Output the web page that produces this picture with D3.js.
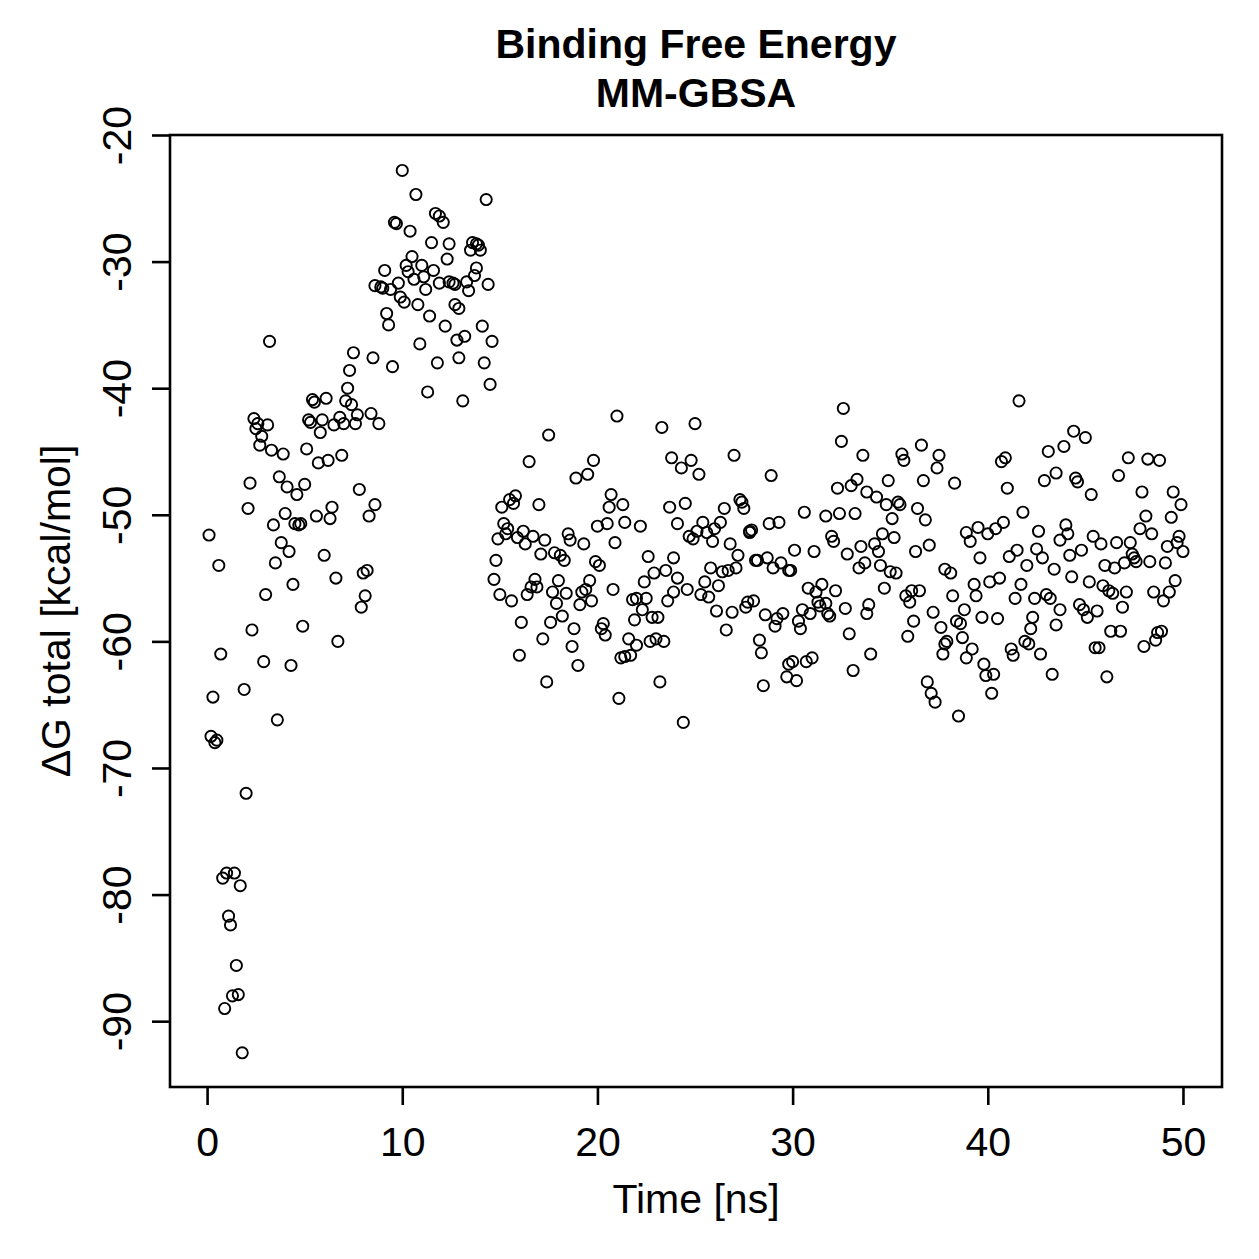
<!DOCTYPE html>
<html>
<head>
<meta charset="utf-8">
<script src="https://cdn.jsdelivr.net/npm/d3@7"></script>
<style>
  html, body { margin: 0; padding: 0; background: #fff; }
  svg { display: block; }
  text { font-family: "Liberation Sans", Arial, Helvetica, sans-serif; fill: #000; }
</style>
</head>
<body>
<script>
// ---- Data (time in ns, ΔG total in kcal/mol) ----
const timeA = [0.1,0.3,0.2,0.4,0.5,0.6,0.7,0.8,1.0,0.9,1.1,1.2,1.4,1.7,1.3,1.6,1.5,1.8,1.9,2.0,
  2.1,2.2,2.3,2.4,2.6,2.5,2.7,2.8,3.1,2.9,3.0,3.2,3.3,3.4,3.5,3.6,3.7,3.9,3.8,4.0,
  4.1,4.2,4.3,4.4,4.5,4.6,4.7,4.8,4.9,5.0,5.1,5.2,5.3,5.4,5.5,5.6,5.7,5.8,5.9,6.0,
  6.1,6.2,6.3,6.4,6.5,6.6,6.7,6.8,6.9,7.0,7.1,7.2,7.3,7.4,7.5,7.6,7.7,7.8,7.9,8.0,
  8.1,8.2,8.3,8.4,8.5,8.6,8.8,9.3,9.5];
const dGA = [-51.6,-64.4,-67.5,-68.0,-67.8,-54.0,-61.0,-78.7,-78.3,-89.0,-81.7,-82.4,-78.3,-79.3,-88.0,-87.9,-85.6,-92.5,-63.8,-72.0,
  -49.5,-47.5,-59.1,-42.4,-42.8,-43.2,-44.5,-43.8,-42.9,-61.6,-56.3,-36.3,-44.9,-50.8,-53.8,-66.2,-47.0,-45.2,-52.2,-49.9,
  -47.8,-52.9,-61.9,-55.5,-50.7,-48.4,-50.8,-50.7,-58.8,-47.6,-44.8,-42.5,-42.7,-40.9,-41.1,-50.1,-45.9,-43.5,-42.5,-53.2,
  -40.8,-45.7,-50.3,-49.4,-42.9,-55.0,-60.0,-42.3,-45.3,-42.8,-41.0,-40.0,-38.6,-41.3,-37.2,-42.8,-42.1,-48.0,-57.3,-54.6,
  -56.4,-54.4,-50.1,-42.0,-37.6,-49.2,-42.8,-35.0,-38.3];

const timeB = [10.0,10.7,14.3,11.7,11.9,12.1,9.6,9.7,10.4,11.5,12.4,13.6,13.8,13.9,13.5,14.0,12.3,10.5,10.2,11.0,
  11.6,10.3,10.6,11.1,13.8,13.7,9.1,8.6,8.9,9.0,9.4,9.8,11.9,12.4,12.6,12.7,13.3,13.4,14.4,11.2,
  9.9,10.1,10.8,12.7,12.9,9.2,11.4,12.2,14.1,13.2,12.8,14.6,10.9,11.8,12.9,14.2,11.3,13.1,14.5];
const dGB = [-22.8,-24.7,-25.1,-26.2,-26.4,-26.9,-26.9,-27.0,-27.6,-28.5,-28.6,-28.5,-28.6,-28.7,-29.1,-29.1,-29.8,-29.6,-30.3,-30.3,
  -30.7,-30.8,-31.4,-31.2,-30.5,-31.1,-30.7,-31.9,-32.0,-32.1,-32.2,-31.7,-31.7,-31.6,-31.7,-31.8,-31.6,-32.3,-31.8,-32.2,
  -32.8,-33.2,-33.4,-33.4,-33.7,-34.1,-34.3,-35.1,-35.1,-35.9,-36.2,-36.3,-36.5,-38.0,-37.6,-38.0,-40.3,-41.0,-39.7];

const timeC = [21.0,23.3,17.5,16.5,19.8,19.5,18.9,23.8,20.7,21.3,20.6,15.8,15.5,15.7,15.1,17.0,23.7,20.0,20.5,21.4,
  22.2,24.1,15.2,15.4,15.3,14.9,15.9,16.2,16.3,16.7,17.3,18.5,18.6,19.3,20.9,14.8,17.1,17.8,18.1,18.3,
  19.9,20.1,22.6,23.9,14.7,15.0,15.6,16.4,16.6,16.8,16.9,18.0,17.7,18.4,17.9,18.2,19.6,19.4,19.2,19.1,
  19.7,20.8,22.4,22.9,23.5,24.1,23.9,21.8,22.0,22.5,22.3,21.9,22.8,23.1,23.6,16.1,17.6,17.2,16.0,17.4,
  18.8,18.7,19.0,20.3,20.2,20.4,21.6,22.0,21.2,21.4,21.7,22.7,23.0,23.4,23.2,21.1,24.4];
const dGC = [-42.2,-43.1,-43.7,-45.8,-45.7,-46.8,-47.1,-45.5,-48.4,-49.2,-49.4,-48.5,-48.8,-49.1,-49.4,-49.2,-49.4,-50.9,-50.7,-50.6,
  -50.9,-50.7,-50.7,-51.1,-51.5,-51.9,-51.8,-51.3,-52.3,-51.7,-52.0,-51.5,-52.0,-52.3,-52.2,-53.6,-53.1,-53.0,-53.2,-53.6,
  -53.7,-54.0,-53.3,-53.4,-55.1,-56.3,-56.8,-56.3,-55.7,-55.1,-55.7,-55.2,-56.1,-56.2,-57.0,-58.0,-55.2,-55.9,-56.1,-57.1,
  -56.8,-55.9,-55.3,-54.6,-54.4,-55.0,-56.1,-56.7,-56.6,-56.6,-57.5,-58.3,-58.1,-58.1,-56.8,-58.5,-58.5,-59.8,-61.1,-63.2,
  -59.0,-60.4,-61.9,-58.6,-59.0,-59.5,-59.8,-60.3,-61.3,-61.2,-61.1,-60.0,-59.8,-60.0,-63.2,-64.5,-66.4];

const timeD = [25.0,32.6,32.5,33.6,27.0,24.8,24.3,25.2,28.9,32.3,33.0,33.3,33.8,24.5,26.5,27.3,27.4,27.5,30.6,31.7,
  32.4,33.2,24.7,24.9,25.1,25.4,25.6,25.9,26.0,26.3,26.8,27.8,27.9,27.8,28.8,29.3,32.0,32.1,32.8,33.5,
  33.7,33.4,27.2,25.8,26.4,26.7,27.1,28.1,28.2,28.7,29.0,29.4,29.8,29.9,30.1,31.1,24.6,25.3,25.5,25.7,
  26.2,26.1,26.9,26.6,27.6,27.7,28.0,28.6,29.1,29.2,29.5,28.3,28.4,30.5,30.3,30.4,30.9,30.8,31.2,31.5,
  32.2,31.3,31.4,31.7,31.8,31.9,32.7,33.8,33.9,32.9,34.0,29.8,30.0,30.7,31.0,29.7,30.2,28.5,33.1];
const dGD = [-42.8,-41.6,-44.2,-45.3,-45.3,-45.7,-46.3,-46.8,-46.9,-47.9,-47.7,-47.2,-48.2,-49.1,-49.5,-48.8,-49.0,-49.5,-49.8,-50.1,
  -49.9,-49.9,-51.7,-51.9,-51.3,-50.6,-51.4,-52.1,-51.1,-50.6,-52.3,-51.3,-51.2,-51.4,-50.7,-50.6,-51.7,-52.1,-53.1,-52.5,
  -53.8,-54.2,-53.2,-54.2,-54.5,-54.4,-54.2,-53.6,-53.6,-53.4,-54.2,-53.8,-54.4,-54.4,-52.8,-52.9,-55.9,-56.3,-55.3,-56.5,
  -55.6,-57.6,-57.7,-59.1,-57.3,-56.9,-56.8,-57.9,-58.8,-58.2,-57.8,-59.9,-60.9,-57.5,-58.4,-59.0,-57.8,-55.8,-56.1,-55.5,
  -56.0,-56.9,-57.2,-57.0,-57.8,-58.0,-57.4,-57.8,-57.1,-59.4,-61.0,-61.8,-61.6,-61.6,-61.3,-62.8,-63.1,-63.5,-62.3];

const timeE = [41.6,36.6,35.6,35.7,37.5,37.4,43.1,40.9,40.7,34.9,36.7,38.3,41.0,42.9,43.5,34.3,34.8,35.4,35.5,36.4,
  36.8,35.1,41.8,38.9,39.1,39.5,40.0,40.4,40.8,42.6,34.2,34.4,34.6,35.2,34.5,35.0,35.3,36.3,37.0,34.7,
  35.8,36.0,36.1,36.5,36.2,35.9,37.2,37.6,37.8,38.1,38.2,38.8,38.4,38.6,38.7,37.9,37.8,37.7,39.2,38.9,
  39.3,39.4,39.7,40.5,40.1,40.6,39.6,41.1,41.5,42.0,39.8,39.9,40.3,40.2,36.9,37.1,37.3,38.5,41.7,41.4,
  42.4,43.0,43.2,42.3,42.2,41.9,42.1,41.2,41.3,42.7,43.3,42.5,42.8,43.4,43.7,43.5];
const dGE = [-41.0,-44.5,-45.2,-45.7,-45.3,-46.3,-45.0,-45.5,-45.8,-47.3,-47.3,-47.5,-47.9,-47.3,-46.7,-48.6,-49.2,-49.0,-49.2,-49.5,
  -50.4,-50.3,-49.8,-51.4,-52.1,-51.0,-51.5,-51.1,-50.6,-51.3,-52.3,-52.9,-51.5,-51.8,-54.0,-54.5,-54.6,-52.9,-52.4,-55.8,
  -56.4,-56.9,-56.0,-56.0,-58.4,-59.6,-57.7,-58.9,-54.3,-54.6,-56.4,-57.5,-58.4,-58.6,-59.7,-60.0,-60.2,-61.0,-60.6,-61.3,
  -55.5,-56.4,-58.1,-58.2,-55.3,-55.0,-53.4,-53.3,-52.8,-54.0,-61.8,-62.7,-62.6,-64.1,-63.2,-64.1,-64.8,-65.9,-55.5,-56.6,
  -56.6,-56.3,-56.6,-58.1,-59.0,-60.0,-60.2,-60.6,-61.1,-61.0,-62.6,-52.7,-53.4,-54.3,-57.5,-58.7];

const timeF = [44.4,45.0,43.9,44.5,44.6,45.3,47.2,48.2,48.8,46.7,47.9,49.5,49.9,48.1,47.8,48.4,49.4,44.0,44.1,43.7,
  45.4,45.8,46.6,47.3,49.8,49.2,49.7,50.0,44.2,44.8,44.3,46.0,46.5,47.0,47.4,47.5,47.6,48.3,49.1,45.2,
  45.9,46.2,46.4,47.1,48.5,49.3,49.6,49.0,44.7,44.9,45.1,45.6,46.9,46.3,46.8,45.5,45.7,48.0,48.6,48.7,
  48.9,46.1];
const dGF = [-43.4,-43.9,-44.6,-47.1,-47.4,-48.4,-45.5,-45.6,-45.7,-46.9,-48.2,-48.2,-49.2,-50.1,-51.1,-51.5,-50.2,-50.8,-51.5,-52.0,
  -51.7,-52.3,-52.2,-52.2,-51.7,-52.5,-52.2,-52.9,-53.2,-52.8,-54.9,-54.0,-54.2,-53.8,-53.1,-53.4,-53.7,-53.7,-53.8,-55.3,
  -55.6,-56.0,-56.2,-56.1,-56.1,-56.1,-55.2,-56.8,-57.1,-57.5,-58.1,-57.6,-57.3,-59.2,-59.2,-60.5,-60.5,-60.4,-59.9,-59.3,
  -59.2,-62.8];

const xTicks = [0, 10, 20, 30, 40, 50];
const yTicks = [-20, -30, -40, -50, -60, -70, -80, -90];
const titleLines = ["Binding Free Energy", "MM-GBSA"];
const xLabel = "Time [ns]";
const yLabel = "ΔG total [kcal/mol]";

// ---- Build point table ----
const times = [].concat(timeA, timeB, timeC, timeD, timeE, timeF);
const values = [].concat(dGA, dGB, dGC, dGD, dGE, dGF);
const points = times.map((t, i) => ({ t, v: values[i] }));

// ---- Layout ----
const W = 1259, H = 1259;
const plot = { left: 170, right: 1222, top: 135, bottom: 1087 };
const fs = 41;

const svg = d3.select("body").append("svg").attr("width", W).attr("height", H);

const x = d3.scaleLinear().domain([-1.9, 52.0]).range([plot.left, plot.right]);
const y = d3.scaleLinear().domain([-95.2, -20.0]).range([plot.bottom, plot.top]);

// points
svg.append("g")
  .selectAll("circle")
  .data(points)
  .join("circle")
  .attr("cx", d => x(d.t))
  .attr("cy", d => y(d.v))
  .attr("r", 5.6)
  .attr("fill", "none")
  .attr("stroke", "#000")
  .attr("stroke-width", 1.9);

// box
svg.append("rect")
  .attr("x", plot.left).attr("y", plot.top)
  .attr("width", plot.right - plot.left).attr("height", plot.bottom - plot.top)
  .attr("fill", "none").attr("stroke", "#000").attr("stroke-width", 2.6);

// x axis
const xAxis = d3.axisBottom(x).tickValues(xTicks).tickSize(18).tickPadding(14).tickFormat(d3.format("d"));
const gx = svg.append("g").attr("transform", `translate(0,${plot.bottom})`).call(xAxis);
gx.select(".domain").remove();
gx.selectAll(".tick line").attr("stroke", "#000").attr("stroke-width", 2.6);
gx.selectAll(".tick text")
  .attr("font-size", fs)
  .attr("font-family", "Liberation Sans, Arial, sans-serif")
  .attr("y", 69).attr("dy", null);

// y axis
const yAxis = d3.axisLeft(y).tickValues(yTicks).tickSize(18).tickFormat(d => String(d));
const gy = svg.append("g").attr("transform", `translate(${plot.left},0)`).call(yAxis);
gy.select(".domain").remove();
gy.selectAll(".tick line").attr("stroke", "#000").attr("stroke-width", 2.6);
gy.selectAll(".tick text")
  .attr("font-size", fs)
  .attr("font-family", "Liberation Sans, Arial, sans-serif")
  .attr("x", null).attr("dy", null)
  .attr("text-anchor", "middle")
  .attr("transform", `translate(${131 - plot.left},0) rotate(-90)`);

// titles
const cx = (plot.left + plot.right) / 2;
svg.append("g").selectAll("text").data(titleLines).join("text")
  .attr("x", cx)
  .attr("y", (d, i) => 58 + i * 49)
  .attr("text-anchor", "middle")
  .attr("font-size", fs)
  .attr("font-weight", "bold")
  .text(d => d);

svg.append("text")
  .attr("x", cx).attr("y", 1213)
  .attr("text-anchor", "middle")
  .attr("font-size", fs)
  .text(xLabel);

svg.append("text")
  .attr("transform", `translate(70,${(plot.top + plot.bottom) / 2}) rotate(-90)`)
  .attr("text-anchor", "middle")
  .attr("font-size", fs)
  .text(yLabel);
</script>
</body>
</html>
